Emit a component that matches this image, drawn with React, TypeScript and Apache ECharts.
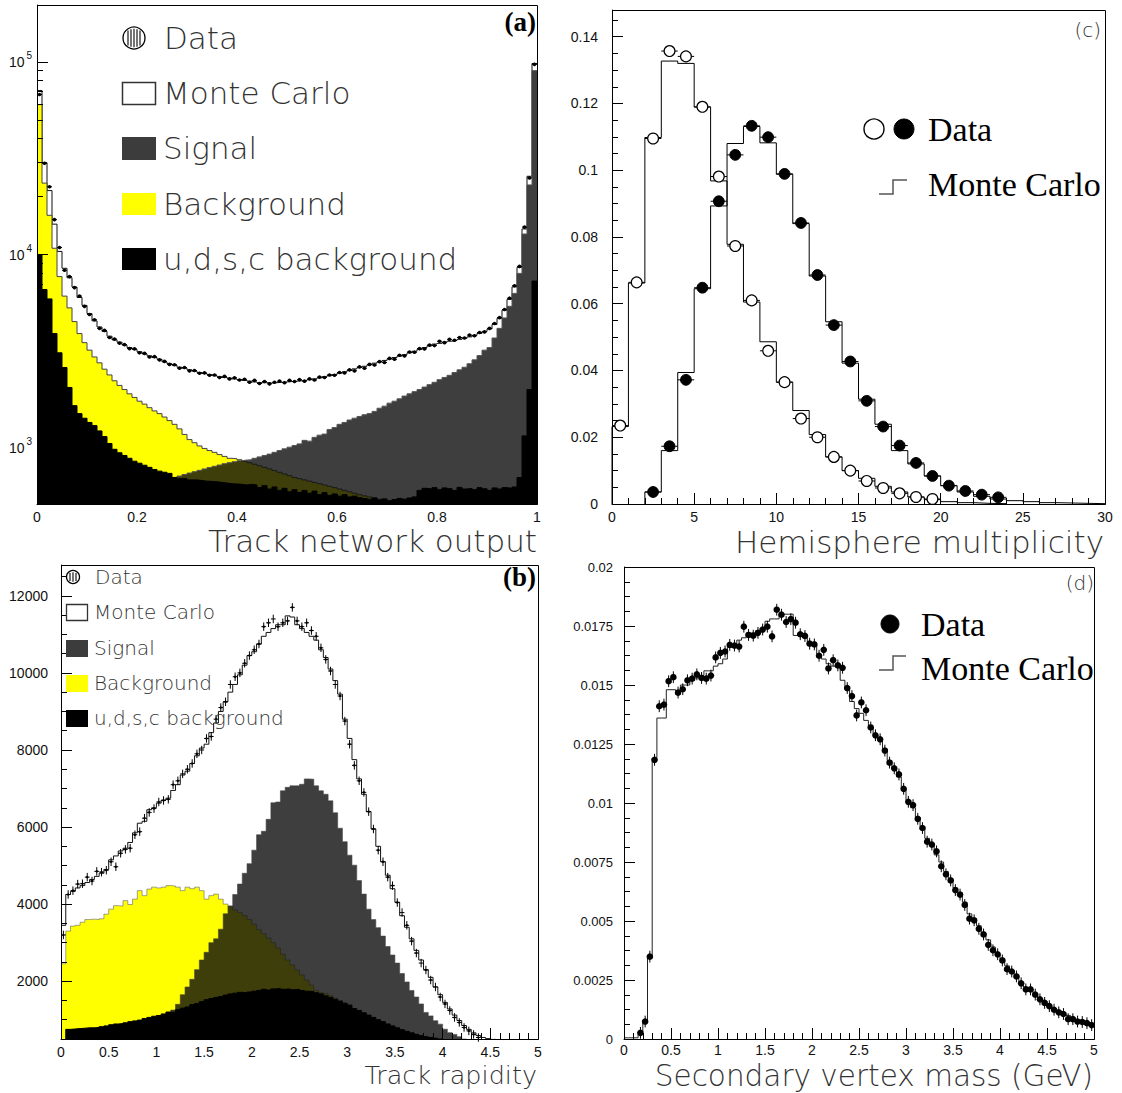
import React, { useEffect, useRef } from "react";
import * as echarts from "echarts";

// ---------------- Panel (a): Track network output ----------------
const A_START = 0;
const A_WIDTH = 0.01;
const A_Y_MIN = 510;
const A_Y_MAX = 197000;
const A_Y_TICKS = [1000, 10000, 100000];
const A_Y_MINOR = [600, 700, 800, 900, 2000, 3000, 4000, 5000, 6000, 7000, 8000, 9000, 20000, 30000, 40000, 50000, 60000, 70000, 80000, 90000];
const A_MC = [
  71000, 30000, 21500, 14400, 10400, 8500, 7600, 6800, 6000, 5460,
  4950, 4540, 4220, 4000, 3780, 3620, 3520, 3400, 3300, 3230,
  3140, 3060, 2990, 2930, 2870, 2780, 2720, 2670, 2610, 2580,
  2530, 2490, 2450, 2420, 2390, 2360, 2330, 2310, 2290, 2270,
  2250, 2230, 2210, 2190, 2170, 2170, 2160, 2170, 2180, 2190,
  2200, 2210, 2220, 2230, 2250, 2270, 2300, 2330, 2360, 2390,
  2430, 2470, 2510, 2560, 2600, 2640, 2690, 2740, 2780, 2830,
  2880, 2930, 2980, 3030, 3100, 3160, 3230, 3300, 3370, 3440,
  3470, 3520, 3560, 3590, 3640, 3690, 3750, 3820, 3910, 4000,
  4120, 4350, 4680, 5160, 5870, 6810, 8600, 13600, 25500, 98000,
];
const A_BKG = [
  60000, 23500, 16000, 10800, 7700, 6100, 5300, 4500, 3900, 3500,
  3200, 2950, 2750, 2550, 2380, 2220, 2100, 2000, 1900, 1820,
  1740, 1680, 1610, 1550, 1500, 1440, 1380, 1320, 1250, 1170,
  1100, 1060, 1020, 990, 965, 945, 920, 900, 880, 875,
  865, 850, 835, 820, 805, 790, 775, 760, 745, 730,
  715, 700, 690, 680, 670, 660, 650, 640, 630, 620,
  610, 600, 590, 580, 570, 562, 555, 548, 540, 530,
  520, 510, 505, 500, 495, 490, 485, 480, 475, 470,
  465, 460, 455, 450, 445, 440, 435, 430, 425, 420,
  415, 410, 405, 400, 400, 400, 400, 420, 450, 500,
];
const A_SIG = [
  300, 320, 340, 360, 380, 400, 420, 440, 455, 470,
  485, 500, 515, 530, 545, 560, 575, 590, 600, 615,
  625, 640, 650, 660, 670, 680, 690, 700, 712, 725,
  738, 750, 762, 775, 788, 800, 812, 825, 835, 845,
  855, 862, 865, 880, 895, 910, 925, 945, 965, 985,
  1005, 1025, 1045, 1090, 1080, 1130, 1160, 1175, 1240, 1270,
  1320, 1350, 1390, 1420, 1450, 1480, 1500, 1540, 1600, 1640,
  1700, 1740, 1790, 1850, 1900, 1950, 2000, 2060, 2120, 2180,
  2250, 2310, 2370, 2450, 2530, 2610, 2720, 2850, 3000, 3200,
  3300, 3700, 4150, 4700, 5400, 6300, 8000, 12800, 23000, 90000,
];
const A_UDSC = [
  10000, 6600, 5900, 3900, 3100, 2600, 2050, 1650, 1500, 1420,
  1350, 1300, 1220, 1140, 1050, 980, 940, 910, 880, 850,
  830, 810, 790, 770, 755, 745, 735, 700, 690, 690,
  680, 680, 675, 670, 668, 665, 660, 655, 650, 648,
  645, 640, 645, 640, 620, 635, 610, 625, 600, 615,
  590, 605, 585, 600, 580, 595, 570, 585, 565, 575,
  560, 570, 555, 560, 550, 545, 540, 548, 535, 542,
  530, 538, 545, 540, 548, 555, 600, 615, 610, 620,
  605, 618, 612, 600, 622, 610, 615, 605, 620, 612,
  600, 618, 610, 620, 615, 625, 700, 1150, 2000, 7300,
];
const A_DATA = [
  67700, 29800, 22500, 15200, 10900, 8300, 7700, 6750, 6100, 5400,
  4900, 4600, 4150, 4050, 3720, 3650, 3480, 3420, 3260, 3250,
  3100, 3080, 2950, 2960, 2850, 2800, 2700, 2690, 2580, 2600,
  2500, 2510, 2430, 2440, 2370, 2380, 2310, 2340, 2270, 2300,
  2240, 2260, 2180, 2230, 2150, 2200, 2140, 2180, 2210, 2170,
  2230, 2200, 2250, 2210, 2270, 2240, 2320, 2310, 2380, 2370,
  2450, 2440, 2530, 2500, 2620, 2580, 2700, 2680, 2790, 2760,
  2900, 2870, 3010, 2990, 3130, 3120, 3260, 3250, 3400, 3380,
  3560, 3500, 3640, 3600, 3720, 3700, 3830, 3800, 3950, 3980,
  4150, 4400, 4720, 5200, 5950, 6900, 8700, 13900, 25000, 97000,
];

// ---------------- Panel (b): Track rapidity ----------------
const B_START = 0;
const B_WIDTH = 0.05;
const B_Y_MIN = 500;
const B_Y_MAX = 12800;
const B_Y_TICKS = [2000, 4000, 6000, 8000, 10000, 12000];
const B_Y_MINOR = [1000, 1500, 2500, 3000, 3500, 4500, 5000, 5500, 6500, 7000, 7500, 8500, 9000, 9500, 10500, 11000, 11500, 12500];
const B_ERR = 110;
const B_MC = [
  3450, 4250, 4330, 4420, 4480, 4560, 4640, 4720, 4800, 4900,
  5150, 5250, 5380, 5450, 5600, 5850, 6100, 6150, 6450, 6500,
  6620, 6700, 6750, 6950, 7100, 7350, 7450, 7650, 7850, 8050,
  8150, 8450, 8700, 9000, 9250, 9500, 9700, 9950, 10200, 10450,
  10550, 10750, 10950, 11050, 11150, 11250, 11250, 11480, 11450, 11250,
  11150, 11050, 10950, 10850, 10600, 10400, 10100, 9800, 9450, 8800,
  8300, 7750, 7250, 6850, 6400, 5950, 5500, 5100, 4750, 4400,
  4050, 3700, 3400, 3100, 2800, 2550, 2300, 2100, 1850, 1650,
  1450, 1280, 1120, 980, 850, 750, 660, 590, 540, 510,
  490, 480, 470, 460, 455, 450, 445, 440, 435, 430,
];
const B_BKG = [
  2450, 3300, 3430, 3450, 3530, 3600, 3610, 3600, 3620, 3740,
  3870, 3960, 3950, 4090, 3990, 4130, 4350, 4220, 4390, 4440,
  4420, 4440, 4480, 4470, 4440, 4350, 4440, 4400, 4440, 4350,
  4130, 4220, 4260, 4130, 4000, 3950, 3850, 3780, 3700, 3600,
  3480, 3340, 3230, 3120, 3000, 2860, 2700, 2550, 2420, 2290,
  2160, 2030, 1900, 1760, 1700, 1680, 1620, 1560, 1500, 1420,
  1300, 1100, 1000, 900, 800, 720, 650, 580, 520, 470,
  430, 400, 380, 360, 340, 320, 300, 280, 260, 240,
  220, 200, 190, 180, 170, 160, 150, 140, 130, 120,
  110, 100, 95, 90, 85, 80, 75, 70, 65, 60,
];
const B_SIG = [
  100, 150, 200, 240, 280, 320, 360, 400, 440, 480,
  520, 560, 600, 640, 680, 720, 760, 800, 840, 880,
  920, 980, 1040, 1250, 1400, 1650, 1850, 2050, 2300, 2550,
  2750, 3000, 3100, 3350, 3750, 3950, 4250, 4520, 4800, 5050,
  5400, 5800, 5890, 6200, 6630, 6650, 6940, 7030, 7070, 7070,
  7110, 7250, 7240, 7070, 6940, 6850, 6680, 6370, 5970, 5620,
  5270, 5010, 4610, 4260, 3870, 3600, 3390, 3170, 2900, 2680,
  2470, 2200, 1980, 1760, 1590, 1410, 1190, 1100, 975, 885,
  755, 665, 620, 560, 500, 450, 420, 400, 380, 360,
  340, 320, 300, 280, 260, 240, 220, 200, 180, 160,
];
const B_UDSC = [
  300, 750, 760, 770, 780, 790, 790, 800, 820, 840,
  870, 890, 900, 920, 950, 970, 990, 1030, 1060, 1090,
  1110, 1150, 1200, 1190, 1260, 1300, 1330, 1390, 1420, 1470,
  1520, 1550, 1580, 1600, 1640, 1670, 1690, 1710, 1700, 1720,
  1740, 1760, 1790, 1770, 1800, 1810, 1790, 1800, 1780, 1790,
  1760, 1740, 1730, 1700, 1670, 1620, 1580, 1530, 1480, 1430,
  1380, 1290, 1240, 1180, 1120, 1060, 1000, 950, 890, 840,
  790, 740, 700, 660, 620, 590, 560, 540, 520, 500,
  480, 460, 440, 420, 400, 380, 360, 340, 320, 300,
  280, 260, 240, 220, 200, 180, 160, 140, 120, 100,
];
const B_DATA: (number | null)[] = [
  3200, 4250, 4350, 4520, 4530, 4700, 4600, 4850, 4830, 4880,
  5100, 4970, 5320, 5420, 5450, 5800, 5880, 6230, 6380, 6480,
  6650, 6690, 6720, 7100, 7200, 7380, 7500, 7650, 7900, 8000,
  8300, 8350, 8800, 9100, 9250, 9700, 9900, 10000, 10250, 10450,
  10600, 10750, 11200, 11300, 11400, 11200, 11300, 11350, 11700, 11350,
  11200, 11300, 11100, 10950, 10650, 10350, 10050, 9700, 9400, 8750,
  8150, 7600, 7200, 6900, 6400, 5950, 5400, 5100, 4700, 4480,
  4040, 3780, 3450, 3040, 2730, 2470, 2290, 2030, 1850, 1590,
  1410, 1240, 1060, 930, 800, 710, 620, 540,
];

// ---------------- Panel (c): Hemisphere multiplicity ----------------
const C_WIDTH = 1;
const C_Y_MAX = 0.148;
const C_OPEN_START = 0;
const C_OPEN_MC = [0.0232, 0.0662, 0.1098, 0.1327, 0.1320, 0.1189, 0.0968, 0.0778, 0.0605, 0.0486, 0.0365, 0.0280, 0.0208, 0.0141, 0.0100, 0.0077, 0.0053, 0.0036, 0.0021, 0.0013, 0.0007, 0.0004, 0.0002, 0.0001];
const C_OPEN_DATA = [0.0235, 0.0664, 0.1095, 0.1357, 0.1341, 0.1190, 0.0981, 0.0773, 0.0610, 0.0459, 0.0365, 0.0256, 0.0200, 0.0141, 0.0100, 0.0069, 0.0048, 0.0032, 0.0021, 0.0015];
const C_FILL_START = 2;
const C_FILL_MC = [0.0036, 0.0160, 0.0394, 0.0645, 0.0893, 0.1080, 0.1131, 0.1082, 0.0988, 0.0840, 0.0683, 0.0546, 0.0422, 0.0314, 0.0239, 0.0160, 0.0120, 0.0084, 0.0055, 0.0036, 0.0023, 0.0015, 0.0010, 0.0007, 0.0004, 0.0003, 0.0002, 0.0001];
const C_FILL_DATA = [0.0036, 0.0173, 0.0372, 0.0648, 0.0907, 0.1046, 0.1133, 0.1099, 0.0989, 0.0842, 0.0686, 0.0536, 0.0427, 0.0309, 0.0232, 0.0175, 0.0123, 0.0084, 0.0055, 0.0039, 0.0028, 0.0020];

// ---------------- Panel (d): Secondary vertex mass ----------------
const D_START = 0;
const D_WIDTH = 0.05;
const D_ERR = 0.00025;
const D_MC = [
  0.00005, 0.00005, 0.00005, 0.0003, 0.0008, 0.0035, 0.0119, 0.0136, 0.0136, 0.0148,
  0.0148, 0.0146, 0.0150, 0.0150, 0.0152, 0.0153, 0.0154, 0.0156, 0.0156, 0.0158,
  0.0159, 0.0161, 0.0166, 0.0167, 0.0169, 0.0170, 0.0172, 0.0172, 0.0173, 0.0174,
  0.0177, 0.0178, 0.0178, 0.0180, 0.0180, 0.0180, 0.0171, 0.0172, 0.0170, 0.0167,
  0.0167, 0.0163, 0.0161, 0.0159, 0.0158, 0.0159, 0.0152, 0.0148, 0.0143, 0.0140,
  0.0138, 0.0135, 0.0132, 0.0129, 0.0127, 0.0123, 0.0118, 0.0115, 0.0111, 0.0106,
  0.0101, 0.0098, 0.0094, 0.0090, 0.0085, 0.0082, 0.0078, 0.0075, 0.0071, 0.0068,
  0.0064, 0.0062, 0.0058, 0.0053, 0.0051, 0.0048, 0.0045, 0.0042, 0.0039, 0.0036,
  0.0034, 0.0031, 0.0029, 0.0027, 0.0024, 0.0022, 0.0021, 0.0019, 0.0017, 0.0016,
  0.0014, 0.0013, 0.0012, 0.0011, 0.0010, 0.0009, 0.0008, 0.0008, 0.0007, 0.00065,
];
const D_DATA_FIRST_BIN = 3;
const D_DATA = [
  0.00026, 0.00074, 0.00349, 0.01183, 0.01410, 0.01417, 0.01516, 0.01533, 0.01468, 0.01482,
  0.01520, 0.01527, 0.01545, 0.01530, 0.01527, 0.01540, 0.01617, 0.01636, 0.01642, 0.01670,
  0.01667, 0.01663, 0.01747, 0.01712, 0.01709, 0.01721, 0.01735, 0.01747, 0.01706, 0.01819,
  0.01798, 0.01767, 0.01779, 0.01764, 0.01715, 0.01708, 0.01675, 0.01672, 0.01624, 0.01649,
  0.01570, 0.01605, 0.01583, 0.01573, 0.01487, 0.01453, 0.01371, 0.01426, 0.01393, 0.01320,
  0.01287, 0.01270, 0.01222, 0.01171, 0.01147, 0.01121, 0.01060, 0.01005, 0.00991, 0.00933,
  0.00894, 0.00836, 0.00824, 0.00795, 0.00732, 0.00698, 0.00672, 0.00631, 0.00612, 0.00568,
  0.00510, 0.00503, 0.00467, 0.00443, 0.00399, 0.00376, 0.00359, 0.00333, 0.00296, 0.00286,
  0.00265, 0.00236, 0.00210, 0.00210, 0.00188, 0.00168, 0.00153, 0.00139, 0.00124, 0.00113,
  0.00106, 0.00084, 0.00084, 0.00074, 0.00072, 0.00067, 0.00059,
];

// ---------------- styling ----------------
const FONT_SANS = '"DejaVu Sans", sans-serif';
const FONT_TICK = '"Liberation Sans", Arial, sans-serif';
const FONT_SERIF = '"Liberation Serif", "Times New Roman", serif';
const YELLOW = "#ffff00";
const SIGNAL_FILL = "rgba(14,14,14,0.8)";
const TEXT_GRAY = "#333";

type Pt = [number, number];

function stepLine(start: number, width: number, vals: number[], base: number | null): Pt[] {
  const pts: Pt[] = [];
  const end = start + vals.length * width;
  if (base !== null) pts.push([start, base]);
  for (let i = 0; i < vals.length; i++) pts.push([start + i * width, vals[i]]);
  pts.push([end, vals[vals.length - 1]]);
  if (base !== null) pts.push([end, base]);
  return pts;
}

function centers(start: number, width: number, vals: (number | null)[]): Pt[] {
  const out: Pt[] = [];
  vals.forEach((v, i) => {
    if (v !== null && v !== undefined) out.push([start + (i + 0.5) * width, v]);
  });
  return out;
}

function hist(xi: number, yi: number, pts: Pt[], line: string, fill: string | null, z: number, lw = 1) {
  const s: any = {
    type: "line",
    xAxisIndex: xi,
    yAxisIndex: yi,
    data: pts,
    step: "end",
    symbol: "none",
    showSymbol: false,
    silent: true,
    clip: true,
    z,
    lineStyle: { color: line, width: lw },
    itemStyle: { color: line },
  };
  if (fill) s.areaStyle = { color: fill, opacity: 1, origin: "start" };
  return s;
}

function markers(xi: number, yi: number, pts: Pt[], hw: number, err: number, r: number, fill: string, stroke: string, lw: number) {
  return {
    type: "custom",
    xAxisIndex: xi,
    yAxisIndex: yi,
    data: pts,
    z: 8,
    silent: true,
    renderItem: (_p: any, api: any) => {
      const x = api.value(0);
      const y = api.value(1);
      const c = api.coord([x, y]);
      const l = api.coord([x - hw, y]);
      const rr = api.coord([x + hw, y]);
      const kids: any[] = [
        { type: "line", shape: { x1: l[0], y1: c[1], x2: rr[0], y2: c[1] }, style: { stroke: "#000", lineWidth: 1 } },
      ];
      if (err > 0) {
        const t = api.coord([x, y + err]);
        const b = api.coord([x, y - err]);
        kids.push({ type: "line", shape: { x1: c[0], y1: t[1], x2: c[0], y2: b[1] }, style: { stroke: "#000", lineWidth: 1 } });
      }
      if (r > 0) kids.push({ type: "circle", shape: { cx: c[0], cy: c[1], r }, style: { fill, stroke, lineWidth: lw } });
      return { type: "group", children: kids };
    },
  };
}

const tickLabel = { color: "#111", fontSize: 14, fontFamily: FONT_TICK };

function xAx(gi: number, min: number, max: number, interval: number, minorSplit: number, margin = 6) {
  return {
    type: "value",
    gridIndex: gi,
    min,
    max,
    interval,
    z: 10,
    axisLine: { show: true, onZero: false, lineStyle: { color: "#000", width: 1 } },
    axisTick: { show: true, inside: true, length: 11, lineStyle: { color: "#000" } },
    minorTick: { show: minorSplit > 0, splitNumber: minorSplit || 5, length: 6, lineStyle: { color: "#000" } },
    splitLine: { show: false },
    minorSplitLine: { show: false },
    axisLabel: { ...tickLabel, margin },
  };
}

function buildOption(): any {
  const grids = [
    { left: 37, top: 5, width: 500, height: 499 },
    { left: 61, top: 565, width: 477, height: 474 },
    { left: 612, top: 10, width: 493, height: 494 },
    { left: 624, top: 567, width: 470, height: 472 },
  ].map((g) => ({ ...g, show: false, containLabel: false, outerBoundsMode: "none" }));

  const xAxis = [
    { ...xAx(0, 0, 1, 0.2, 0), axisTick: { show: true, inside: true, length: 10, lineStyle: { color: "#000" } } },
    xAx(1, 0, 5, 0.5, 5),
    xAx(2, 0, 30, 5, 5),
    xAx(3, 0, 5, 0.5, 5, 4),
  ];

  const yBase = {
    z: 10,
    position: "left",
    splitLine: { show: false },
    minorSplitLine: { show: false },
  };

  const yAxis = [
    {
      ...yBase,
      type: "log",
      logBase: 10,
      gridIndex: 0,
      min: A_Y_MIN,
      max: A_Y_MAX,
      axisLine: { show: true, lineStyle: { color: "#000" } },
      axisTick: { show: true, inside: true, length: 11, lineStyle: { color: "#000" }, customValues: A_Y_TICKS },
      axisLabel: {
        customValues: A_Y_TICKS,
        margin: 5,
        formatter: (v: number) => `{b|10}{s|${Math.round(Math.log10(v))}}`,
        rich: {
          b: { fontSize: 14, fontFamily: FONT_TICK, color: "#111", lineHeight: 22 },
          s: { fontSize: 10, fontFamily: FONT_TICK, color: "#111", verticalAlign: "top", lineHeight: 12, padding: [0, 0, 0, 2] },
        },
      },
    },
    {
      ...yBase,
      type: "log",
      logBase: 10,
      gridIndex: 0,
      min: A_Y_MIN,
      max: A_Y_MAX,
      axisLine: { show: false },
      axisLabel: { show: false },
      axisTick: { show: true, inside: true, length: 6, lineStyle: { color: "#000" }, customValues: A_Y_MINOR },
    },
    {
      ...yBase,
      type: "value",
      gridIndex: 1,
      min: B_Y_MIN,
      max: B_Y_MAX,
      axisLine: { show: true, lineStyle: { color: "#000" } },
      axisTick: { show: true, inside: true, length: 11, lineStyle: { color: "#000" }, customValues: B_Y_TICKS },
      axisLabel: { ...tickLabel, margin: 13, customValues: B_Y_TICKS, formatter: (v: number) => String(v) },
    },
    {
      ...yBase,
      type: "value",
      gridIndex: 1,
      min: B_Y_MIN,
      max: B_Y_MAX,
      axisLine: { show: false },
      axisLabel: { show: false },
      axisTick: { show: true, inside: true, length: 6, lineStyle: { color: "#000" }, customValues: B_Y_MINOR },
    },
    {
      ...yBase,
      type: "value",
      gridIndex: 2,
      min: 0,
      max: C_Y_MAX,
      interval: 0.02,
      axisLine: { show: true, lineStyle: { color: "#000" } },
      axisTick: { show: true, inside: true, length: 11, lineStyle: { color: "#000" } },
      minorTick: { show: true, splitNumber: 4, length: 6, lineStyle: { color: "#000" } },
      axisLabel: { ...tickLabel, margin: 14, showMaxLabel: false },
    },
    {
      ...yBase,
      type: "value",
      gridIndex: 3,
      min: 0,
      max: 0.02,
      interval: 0.0025,
      axisLine: { show: true, lineStyle: { color: "#000" } },
      axisTick: { show: true, inside: true, length: 11, lineStyle: { color: "#000" } },
      minorTick: { show: true, splitNumber: 4, length: 6, lineStyle: { color: "#000" } },
      axisLabel: { ...tickLabel, fontSize: 13, margin: 11 },
    },
  ];

  const series: any[] = [
    // (a)
    hist(0, 0, stepLine(A_START, A_WIDTH, A_MC, null), "#111", "#ffffff", 2),
    hist(0, 0, stepLine(A_START, A_WIDTH, A_BKG, null), "#444", YELLOW, 3),
    hist(0, 0, stepLine(A_START, A_WIDTH, A_SIG, null), "#555", SIGNAL_FILL, 4),
    hist(0, 0, stepLine(A_START, A_WIDTH, A_UDSC, null), "#000", "#000000", 5),
    markers(0, 0, centers(A_START, A_WIDTH, A_DATA), A_WIDTH / 2, 0, 1.8, "#000", "#000", 0),
    // (b)
    hist(1, 2, stepLine(B_START, B_WIDTH, B_MC, null), "#111", "#ffffff", 2),
    hist(1, 2, stepLine(B_START, B_WIDTH, B_BKG, null), "#666", YELLOW, 3, 0.6),
    hist(1, 2, stepLine(B_START, B_WIDTH, B_SIG, null), "#444", SIGNAL_FILL, 4, 0.6),
    hist(1, 2, stepLine(B_START, B_WIDTH, B_UDSC, null), "#000", "#000000", 5),
    markers(1, 2, centers(B_START, B_WIDTH, B_DATA), B_WIDTH / 2, B_ERR, 1.2, "#000", "#000", 0),
    // (c)
    hist(2, 4, stepLine(C_OPEN_START, C_WIDTH, C_OPEN_MC, 0), "#000", null, 3),
    hist(2, 4, stepLine(C_FILL_START, C_WIDTH, C_FILL_MC, 0), "#000", null, 3),
    markers(2, 4, centers(C_OPEN_START, C_WIDTH, C_OPEN_DATA), C_WIDTH / 2, 0, 5.4, "#fff", "#000", 1.2),
    markers(2, 4, centers(C_FILL_START, C_WIDTH, C_FILL_DATA), C_WIDTH / 2, 0, 5.4, "#000", "#000", 1),
    // (d)
    hist(3, 5, stepLine(D_START, D_WIDTH, D_MC, null), "#222", null, 3),
    markers(3, 5, centers(D_START + D_DATA_FIRST_BIN * D_WIDTH, D_WIDTH, D_DATA), D_WIDTH / 2, D_ERR, 3.3, "#000", "#000", 0),
  ];

  const txt = (text: string, x: number, y: number, size: number, align: string, family: string, weight: any = "normal", fill = TEXT_GRAY) => ({
    type: "text",
    x,
    y,
    z: 120,
    silent: true,
    style: { text, fontSize: size, fontFamily: family, fontWeight: weight, fill, align, verticalAlign: "middle" },
  });
  const rect = (x: number, y: number, w: number, h: number, fill: string, stroke: string | null, lw = 1) => ({
    type: "rect",
    z: 120,
    silent: true,
    shape: { x, y, width: w, height: h },
    style: { fill, stroke: stroke || undefined, lineWidth: lw },
  });
  const stripedCircle = (cx: number, cy: number, r: number, offs: number[]) => {
    const els: any[] = [
      { type: "circle", z: 120, silent: true, shape: { cx, cy, r }, style: { fill: "#fff", stroke: "#000", lineWidth: 1.3 } },
    ];
    offs.forEach((dx) => {
      const h = Math.sqrt(r * r - dx * dx) - 1.8;
      els.push({ type: "line", z: 121, silent: true, shape: { x1: cx + dx, y1: cy - h, x2: cx + dx, y2: cy + h }, style: { stroke: "#000", lineWidth: 1.1 } });
    });
    return els;
  };
  const frame = (g: any) => ({
    type: "rect",
    z: 110,
    silent: true,
    shape: { x: g.left + 0.5, y: g.top + 0.5, width: g.width, height: g.height },
    style: { fill: "none", stroke: "#000", lineWidth: 1 },
  });

  const LW = 200;
  const graphic: any[] = [
    ...grids.map(frame),
    // (a) legend
    ...stripedCircle(134, 38, 11, [-6, -3, 0, 3, 6]),
    rect(122.5, 82.5, 33, 22, "#fff", "#333", 1.5),
    rect(122, 137, 34, 23, "#3c3c3c", null),
    rect(122, 193, 34, 22, YELLOW, null),
    rect(122, 248, 34, 22, "#000", null),
    txt("Data", 164, 38, 31, "left", FONT_SANS, LW),
    txt("Monte Carlo", 163, 93, 31, "left", FONT_SANS, LW),
    txt("Signal", 163, 148, 31, "left", FONT_SANS, LW),
    txt("Background", 163, 204, 31, "left", FONT_SANS, LW),
    txt("u,d,s,c background", 163, 259, 31, "left", FONT_SANS, LW),
    txt("(a)", 536, 22, 27, "right", FONT_SERIF, "bold", "#000"),
    txt("Track network output", 537, 541, 31, "right", FONT_SANS, LW),
    // (b) legend
    ...stripedCircle(73, 577, 6.5, [-3, 0, 3]),
    rect(66.5, 604.5, 21, 16, "#fff", "#333", 1.3),
    rect(66, 640, 22, 17, "#3c3c3c", null),
    rect(66, 675, 22, 17, YELLOW, null),
    rect(66, 710, 22, 17, "#000", null),
    txt("Data", 95, 577, 20, "left", FONT_SANS, LW),
    txt("Monte Carlo", 94, 612, 20, "left", FONT_SANS, LW),
    txt("Signal", 94, 648, 20, "left", FONT_SANS, LW),
    txt("Background", 94, 683, 20, "left", FONT_SANS, LW),
    txt("u,d,s,c background", 94, 718, 20, "left", FONT_SANS, LW),
    txt("(b)", 536, 577, 27, "right", FONT_SERIF, "bold", "#000"),
    txt("Track rapidity", 537, 1075, 25.5, "right", FONT_SANS, LW),
    // (c) legend
    { type: "circle", z: 120, silent: true, shape: { cx: 874, cy: 129, r: 10 }, style: { fill: "#fff", stroke: "#000", lineWidth: 1.4 } },
    { type: "circle", z: 120, silent: true, shape: { cx: 904, cy: 129, r: 10 }, style: { fill: "#000", stroke: "#000", lineWidth: 1 } },
    txt("Data", 928, 129, 34, "left", FONT_SERIF, "normal", "#000"),
    { type: "polyline", z: 120, silent: true, shape: { points: [[879, 194], [893, 194], [893, 180], [907, 180]] }, style: { stroke: "#555", lineWidth: 1.5, fill: "none" } },
    txt("Monte Carlo", 928, 184, 34, "left", FONT_SERIF, "normal", "#000"),
    txt("(c)", 1101, 30, 20, "right", FONT_SANS, LW),
    txt("Hemisphere multiplicity", 1104, 542, 31, "right", FONT_SANS, LW),
    // (d) legend
    { type: "circle", z: 120, silent: true, shape: { cx: 890, cy: 624, r: 9 }, style: { fill: "#000", stroke: "#000", lineWidth: 1 } },
    txt("Data", 921, 624, 34, "left", FONT_SERIF, "normal", "#000"),
    { type: "polyline", z: 120, silent: true, shape: { points: [[879, 670], [893, 670], [893, 656], [906, 656]] }, style: { stroke: "#555", lineWidth: 1.5, fill: "none" } },
    txt("Monte Carlo", 921, 668, 34, "left", FONT_SERIF, "normal", "#000"),
    txt("(d)", 1094, 583, 20, "right", FONT_SANS, LW),
    txt("Secondary vertex mass (GeV)", 1093, 1076, 29.5, "right", FONT_SANS, LW),
  ];

  return {
    animation: false,
    backgroundColor: "#ffffff",
    grid: grids,
    xAxis,
    yAxis,
    series,
    graphic,
  };
}

export default function App() {
  const ref = useRef<HTMLDivElement>(null);
  useEffect(() => {
    if (!ref.current) return;
    const chart = echarts.init(ref.current, undefined, { renderer: "svg" });
    chart.setOption(buildOption());
    return () => chart.dispose();
  }, []);
  return (
    <div
      ref={ref}
      style={{ position: "absolute", left: 0, top: 0, width: 1122, height: 1093, background: "#fff" }}
    />
  );
}
